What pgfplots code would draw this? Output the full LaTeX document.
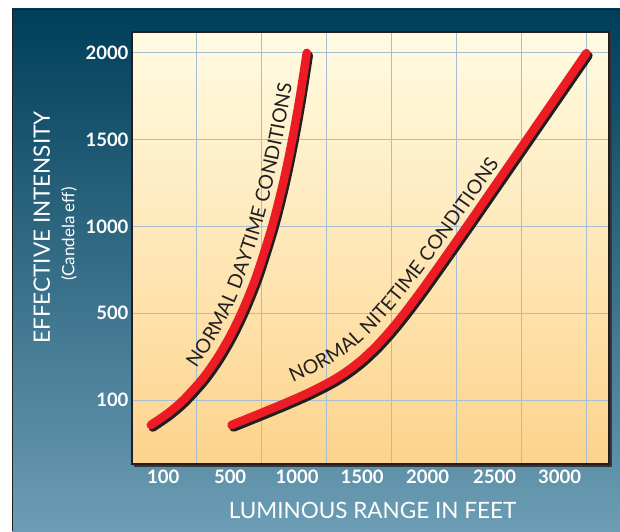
\documentclass[border=0pt]{standalone}
\usepackage{fontspec}
\setmainfont{Lato}
\usepackage{pgfplots}
\usepackage{pgfplotstable}
\pgfplotsset{compat=1.18}
\usetikzlibrary{decorations.text}
\definecolor{bgtop}{HTML}{003E59}
\definecolor{bgmid}{HTML}{2B7089}
\definecolor{bgbot}{HTML}{6C9DB4}
\definecolor{pltop}{HTML}{FFFBE2}
\definecolor{plmid}{HTML}{FEEBBD}
\definecolor{plbot}{HTML}{FDD38C}
\definecolor{gridc}{HTML}{A7BED2}
\definecolor{curvered}{HTML}{ED1C24}
\definecolor{shadowc}{HTML}{231F20}
\newcommand\tickfont{\bfseries\fontsize{18.5}{18.5}\selectfont}
\newcommand\curvefont{\fontsize{19.5}{20}\selectfont}

\pgfplotstableread{
x y
0.290 -0.288
0.556 -0.15
0.789 0
1.091 0.25
1.326 0.5
1.519 0.75
1.682 1
1.823 1.25
1.947 1.5
2.156 2
2.326 2.5
2.466 3
2.585 3.5
2.689 4
}\daytime

\pgfplotstableread{
x y
1.5308 -0.2880
1.8385 -0.1950
2.1462 -0.1009
2.4538 -0.0038
2.7615 0.1001
3.0692 0.2196
3.3000 0.3280
3.5308 0.4612
3.7615 0.6241
3.9923 0.8161
4.2231 1.0313
4.5308 1.3414
5.1538 2.0032
5.6154 2.5030
6.0769 3.0028
6.9923 3.9967
}\nitetime

\pgfplotstableread{
x y
0.992 0.365
1.374 0.808
1.674 1.294
2.008 2.031
2.320 3.021
2.545 4.017
}\daytext

\pgfplotstableread{
x y
2.477 0.205
2.954 0.372
3.391 0.583
3.846 0.909
4.400 1.412
5.037 2.065
5.972 3.056
6.891 4.048
}\nitetext

\begin{document}
\begin{tikzpicture}
\useasboundingbox (0pt,0pt) rectangle (620pt,531pt);
\fill[white] (0pt,0pt) rectangle (620pt,531pt);
\shade[top color=bgtop, middle color=bgmid, bottom color=bgbot] (12pt,0pt) rectangle (620pt,522pt);
\draw[shadowc, line width=1pt] (12.5pt,0pt) -- (12.5pt,521.5pt) -- (620pt,521.5pt);
\fill[shadowc!90] (134pt,64.5pt) rectangle (611.5pt,497pt);
\begin{axis}[
  at={(132pt,67pt)}, anchor=south west,
  width=477pt, height=432pt, scale only axis,
  xmin=0, xmax=7.34, ymin=-0.737, ymax=4.24,
  axis background/.style={shade, top color=pltop, middle color=plmid, bottom color=plbot},
  axis line style={shadowc, line width=1.2pt},
  xtick={0.48,1.51,2.54,3.54,4.55,5.58,6.58},
  xticklabels={100,500,1000,1500,2000,2500,3000},
  minor xtick={1,2,3,4,5,6,7},
  ytick={0,1,2,3,4},
  yticklabels={100,500,1000,1500,2000},
  xminorgrids=true, ymajorgrids=true, xmajorgrids=false,
  major grid style={gridc, line width=1pt},
  minor grid style={gridc, line width=1pt},
  major tick length=0pt, minor tick length=0pt,
  tick label style={font=\tickfont, text=white},
  xticklabel style={yshift=-2pt},
  clip=false,
]
\addplot[shadowc, line width=8.5pt, line cap=round, smooth, transform canvas={xshift=2pt,yshift=-2.5pt}] table {\daytime};
\addplot[curvered, line width=8.5pt, line cap=round, smooth] table {\daytime};
\addplot[shadowc, line width=8.5pt, line cap=round, smooth, transform canvas={xshift=2pt,yshift=-2.5pt}] table {\nitetime};
\addplot[curvered, line width=8.5pt, line cap=round, smooth] table {\nitetime};
\addplot[draw=none, smooth, postaction={decorate}, decoration={text along path, text color=shadowc, text={|\curvefont|NORMAL DAYTIME CONDITIONS}}] table {\daytext};
\addplot[draw=none, smooth, postaction={decorate}, decoration={text along path, text color=shadowc, text={|\curvefont|NORMAL NITETIME CONDITIONS}}] table {\nitetext};
\end{axis}
\node[rotate=90, text=white, font=\fontsize{22.5}{23}\selectfont] at (41.7pt,303.5pt) {EFFECTIVE INTENSITY};
\node[rotate=90, text=white, font=\fontsize{17}{17}\selectfont] at (69pt,297pt) {(Candela eff)};
\node[text=white, font=\fontsize{22.5}{23}\selectfont] at (372.5pt,20.2pt) {LUMINOUS RANGE IN FEET};
\end{tikzpicture}
\end{document}
